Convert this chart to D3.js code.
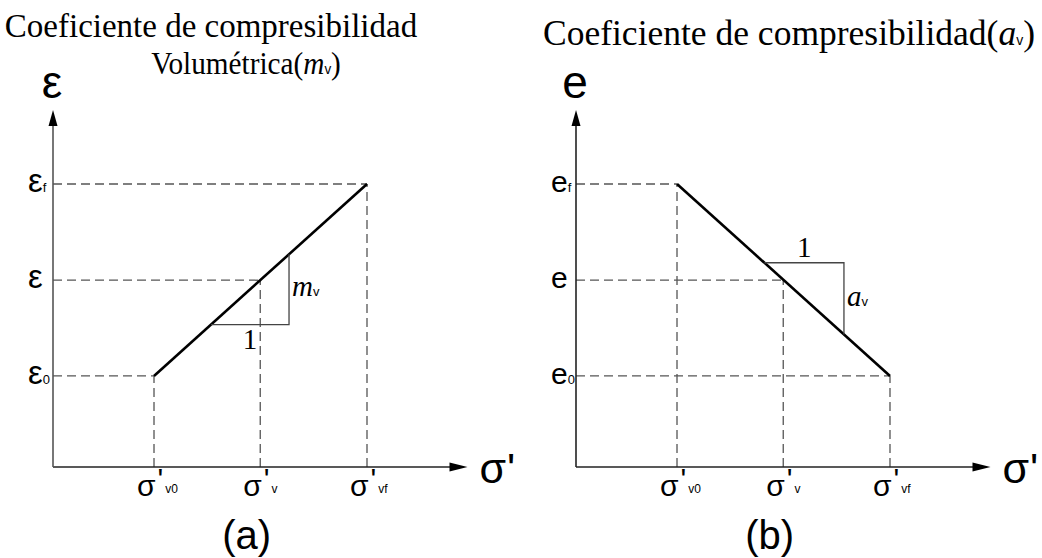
<!DOCTYPE html>
<html>
<head>
<meta charset="utf-8">
<script src="https://cdn.jsdelivr.net/npm/d3@7"></script>
<style>
  html, body { margin: 0; padding: 0; background: #fff; }
  svg { display: block; }
  .serif { font-family: "Liberation Serif", "Times New Roman", serif; }
  .sans { font-family: "Liberation Sans", Arial, sans-serif; }
</style>
</head>
<body>
<svg id="chart" width="1042" height="558"></svg>
<script>
// Stress levels on the horizontal axis (σ'v0, σ'v, σ'vf)
const stressLevels = [0.965, 1.98, 3.0];
const stressSubs = ["v0", "v", "vf"];

// Strain / void-ratio levels on the vertical axis (x0, x, xf)
const strainLevels = [0.965, 1.98, 3.0];
const strainSubs = ["0", "", "f"];

// Straight compression lines for each panel
const lineA = [[0.965, 0.965], [3.0, 3.0]];
const lineB = [[0.965, 3.0], [3.0, 0.965]];

// Slope triangles (start on the line, horizontal run, vertical rise)
const slopeA = [[1.51, 1.51], [2.255, 1.51], [2.255, 2.255]];
const slopeB = [[1.80, 2.165], [2.56, 2.165], [2.56, 1.405]];

// Intersection points marked with dashed guides
const guidesA = [[stressLevels[0], strainLevels[0]], [stressLevels[1], strainLevels[1]], [stressLevels[2], strainLevels[2]]];
const guidesB = [[stressLevels[0], strainLevels[2]], [stressLevels[1], strainLevels[1]], [stressLevels[2], strainLevels[0]]];

const svg = d3.select("#chart");

const panels = [
  { id: "a", left: 53, yName: "ε", yTickSize: 33, yAxisColor: "#555", line: lineA, slope: slopeA,
    guides: guidesA, slopeLabel: "m", caption: "(a)" },
  { id: "b", left: 576, yName: "e", yTickSize: 30, yAxisColor: "#222", line: lineB, slope: slopeB,
    guides: guidesB, slopeLabel: "a", caption: "(b)" }
];

const axisColor = "#222";
const dashColor = "#555";

panels.forEach(p => {
  const x = d3.scaleLinear().domain([0, 3]).range([p.left, p.left + 314]);
  const y = d3.scaleLinear().domain([0, 3]).range([467, 184]);
  const g = svg.append("g");

  // dashed guides from the axes to each point of the line
  p.guides.forEach(([sx, sy]) => {
    g.append("line")
      .attr("x1", x(0)).attr("y1", y(sy)).attr("x2", x(sx)).attr("y2", y(sy))
      .attr("stroke", dashColor).attr("stroke-width", 1.3).attr("stroke-dasharray", "9,5");
    g.append("line")
      .attr("x1", x(sx)).attr("y1", y(0)).attr("x2", x(sx)).attr("y2", y(sy))
      .attr("stroke", dashColor).attr("stroke-width", 1.3).attr("stroke-dasharray", "9,5");
  });

  // axes with arrow heads
  const xEnd = 3.96, yEnd = 3.785;
  g.append("line").attr("x1", x(0)).attr("y1", y(0)).attr("x2", x(xEnd) - 14).attr("y2", y(0))
    .attr("stroke", axisColor).attr("stroke-width", 1.5);
  g.append("line").attr("x1", x(0)).attr("y1", y(0)).attr("x2", x(0)).attr("y2", y(yEnd) + 12)
    .attr("stroke", p.yAxisColor).attr("stroke-width", 1.6);
  g.append("path")
    .attr("d", `M${x(xEnd)},${y(0)} L${x(xEnd) - 18},${y(0) - 4.5} L${x(xEnd) - 18},${y(0) + 4.5} Z`)
    .attr("fill", "#000");
  g.append("path")
    .attr("d", `M${x(0)},${y(yEnd)} L${x(0) - 4.5},${y(yEnd) + 16} L${x(0) + 4.5},${y(yEnd) + 16} Z`)
    .attr("fill", "#000");

  // main line
  g.append("path")
    .attr("d", d3.line().x(d => x(d[0])).y(d => y(d[1]))(p.line))
    .attr("fill", "none").attr("stroke", "#000").attr("stroke-width", 2.6);

  // slope triangle legs
  g.append("path")
    .attr("d", d3.line().x(d => x(d[0])).y(d => y(d[1]))(p.slope))
    .attr("fill", "none").attr("stroke", "#444").attr("stroke-width", 1.3);

  const run = p.slope[1], rise = p.slope[2];
  const midRun = (p.slope[0][0] + run[0]) / 2;
  // "1" label on the horizontal leg
  g.append("text").attr("class", "serif")
    .attr("x", x(midRun)).attr("y", p.id === "a" ? y(run[1]) + 24 : y(run[1]) - 6)
    .attr("text-anchor", "middle").attr("font-size", 29).text("1");
  // slope coefficient label beside the vertical leg
  const slopeText = g.append("text")
    .attr("x", x(run[0]) + 3).attr("y", (y(run[1]) + y(rise[1])) / 2 + 7);
  slopeText.append("tspan").attr("class", "serif").attr("font-style", "italic")
    .attr("font-size", 29).text(p.slopeLabel);
  slopeText.append("tspan").attr("class", "sans").attr("font-size", 13).text("v");

  // horizontal axis tick labels σ'
  stressLevels.forEach((s, i) => {
    const t = g.append("text").attr("class", "sans").attr("x", x(s) - 17).attr("y", 496);
    t.append("tspan").attr("font-size", 30).text("σ");
    t.append("tspan").attr("font-size", 30).attr("dx", 2).attr("dy", -7).text("'");
    t.append("tspan").attr("font-size", 12).attr("dx", 2).attr("dy", 4).text(stressSubs[i]);
  });

  // vertical axis tick labels
  strainLevels.forEach((s, i) => {
    const t = g.append("text").attr("class", "sans").attr("x", x(0) - 25).attr("y", y(s) + 8);
    t.append("tspan").attr("font-size", p.yTickSize).text(p.yName);
    if (strainSubs[i]) t.append("tspan").attr("font-size", 13).text(strainSubs[i]);
  });

  // axis names
  g.append("text").attr("class", "sans").attr("x", x(0) - 1).attr("y", 98)
    .attr("text-anchor", "middle").attr("font-size", 46).text(p.yName);
  const xl = g.append("text").attr("class", "sans").attr("x", x(xEnd) + 12).attr("y", 483)
    .attr("font-size", 43);
  xl.append("tspan").text("σ");
  xl.append("tspan").attr("dx", 1).text("'");

  // panel caption
  g.append("text").attr("class", "sans").attr("x", x(1.85)).attr("y", 549)
    .attr("text-anchor", "middle").attr("font-size", 40).text(p.caption);
});

// titles
svg.append("text").attr("class", "serif").attr("x", 211).attr("y", 37)
  .attr("text-anchor", "middle").attr("font-size", 33).text("Coeficiente de compresibilidad");
// second line set in a slightly condensed face
const t2 = svg.append("text").attr("class", "serif")
  .attr("transform", "translate(246,74) scale(0.9,1)")
  .attr("text-anchor", "middle").attr("font-size", 32.5);
t2.append("tspan").text("Volumétrica(");
t2.append("tspan").attr("font-style", "italic").text("m");
t2.append("tspan").attr("class", "sans").attr("font-size", 15).text("v");
t2.append("tspan").text(")");
const t3 = svg.append("text").attr("class", "serif").attr("x", 789).attr("y", 45)
  .attr("text-anchor", "middle").attr("font-size", 35.5);
t3.append("tspan").text("Coeficiente de compresibilidad(");
t3.append("tspan").attr("font-style", "italic").text("a");
t3.append("tspan").attr("class", "sans").attr("font-size", 14).text("v");
t3.append("tspan").text(")");
</script>
</body>
</html>
